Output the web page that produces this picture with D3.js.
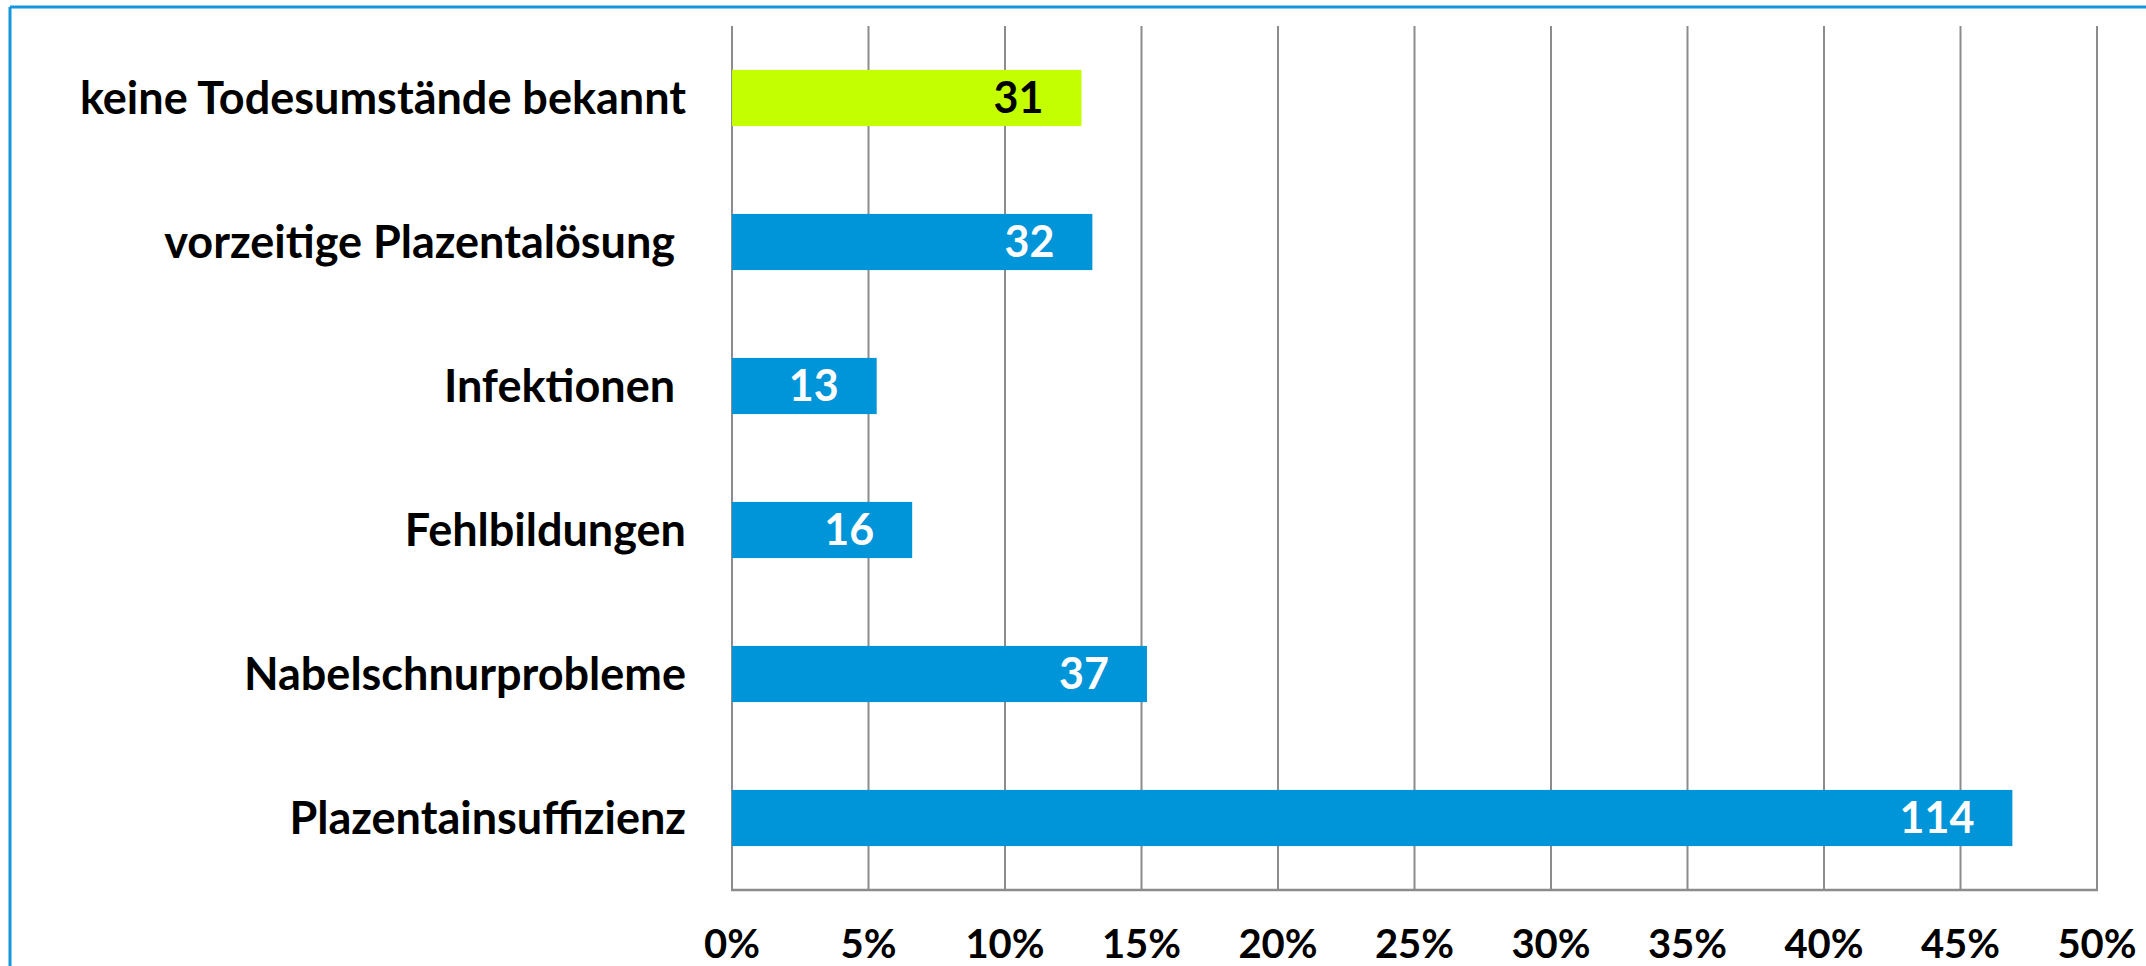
<!DOCTYPE html>
<html>
<head>
<meta charset="utf-8">
<script src="https://cdn.jsdelivr.net/npm/d3@7"></script>
<style>
  html, body { margin: 0; padding: 0; background: #fff; }
  svg { display: block; }
  text { font-family: Lato, "Open Sans", sans-serif; font-weight: 700; }
</style>
</head>
<body>
<svg id="chart" width="2146" height="966"></svg>
<script>
// ---- data ----
const categories = [
  "keine Todesumstände bekannt",
  "vorzeitige Plazentalösung\u00a0",
  "Infektionen\u00a0",
  "Fehlbildungen",
  "Nabelschnurprobleme",
  "Plazentainsuffizienz"
];
const counts = [31, 32, 13, 16, 37, 114];
const percents = [12.8, 13.2, 5.3, 6.6, 15.2, 46.9];
const highlight = [true, false, false, false, false, false];
const tickValues = [0, 5, 10, 15, 20, 25, 30, 35, 40, 45, 50];
const tickLabels = ["0%", "5%", "10%", "15%", "20%", "25%", "30%", "35%", "40%", "45%", "50%"];

// ---- layout ----
const W = 2146, H = 966;
const plot = { left: 732, right: 2097, top: 26, bottom: 890 };
const svg = d3.select("#chart");

// border (top + left visible)
svg.append("line").attr("x1", 10).attr("x2", W).attr("y1", 7).attr("y2", 7)
  .attr("stroke", "#1497dc").attr("stroke-width", 3);
svg.append("line").attr("x1", 10).attr("x2", 10).attr("y1", 7).attr("y2", H)
  .attr("stroke", "#1497dc").attr("stroke-width", 3);

const x = d3.scaleLinear().domain([0, 50]).range([plot.left, plot.right]);
const y = d3.scaleBand().domain(categories).range([plot.top, plot.bottom]).paddingInner(0.61).paddingOuter(0.305);

// gridlines
svg.append("g").selectAll("line").data(tickValues).join("line")
  .attr("x1", d => x(d)).attr("x2", d => x(d))
  .attr("y1", plot.top).attr("y2", plot.bottom)
  .attr("stroke", "#8c8c8c").attr("stroke-width", 2);

// baseline
svg.append("line").attr("x1", plot.left - 1).attr("x2", plot.right + 1)
  .attr("y1", plot.bottom).attr("y2", plot.bottom)
  .attr("stroke", "#8c8c8c").attr("stroke-width", 2.5);

// bars
const rows = categories.map((c, i) => ({ c, n: counts[i], p: percents[i], hl: highlight[i] }));
svg.append("g").selectAll("rect").data(rows).join("rect")
  .attr("x", x(0))
  .attr("y", d => y(d.c))
  .attr("width", d => x(d.p) - x(0))
  .attr("height", y.bandwidth())
  .attr("fill", d => d.hl ? "#c3ff00" : "#0094d8");

// value labels
svg.append("g").selectAll("text").data(rows).join("text")
  .attr("x", d => x(d.p) - 38)
  .attr("y", d => y(d.c) + y.bandwidth() / 2)
  .attr("dy", "0.36em")
  .attr("text-anchor", "end")
  .attr("font-size", 43)
  .attr("fill", d => d.hl ? "#000" : "#fff")
  .text(d => d.n);

// category labels
svg.append("g").selectAll("text").data(categories).join("text")
  .attr("x", plot.left - 46)
  .attr("y", d => y(d) + y.bandwidth() / 2)
  .attr("dy", "0.35em")
  .attr("text-anchor", "end")
  .attr("font-size", 45)
  .attr("fill", "#000")
  .style("white-space", "pre")
  .text(d => d);

// x tick labels
svg.append("g").selectAll("text").data(tickValues).join("text")
  .attr("x", d => x(d))
  .attr("y", 958)
  .attr("text-anchor", "middle")
  .attr("font-size", 40)
  .attr("fill", "#000")
  .text((d, i) => tickLabels[i]);
</script>
</body>
</html>
